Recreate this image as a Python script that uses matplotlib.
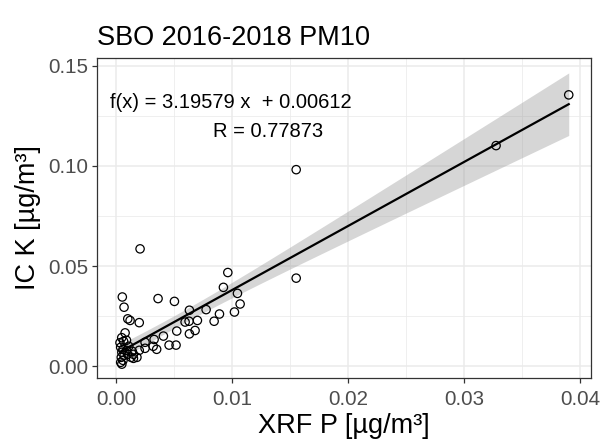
import numpy as np
import matplotlib
matplotlib.use("Agg")
import matplotlib.pyplot as plt

plt.rcParams['font.family'] = ['Liberation Sans', 'DejaVu Sans']

# XRF phosphorus vs. ion-chromatography potassium, PM10 samples
xrf_p = [
    0.0390, 0.03274, 0.01552, 0.01552, 0.00207, 0.00963, 0.00925, 0.01046,
    0.01069, 0.01020, 0.00891, 0.00845, 0.00776, 0.00632, 0.00629, 0.00595,
    0.00701, 0.00681, 0.00632, 0.00523, 0.00503, 0.00362, 0.00054, 0.00069,
    0.00101, 0.00121, 0.00200, 0.00457, 0.00517, 0.00408, 0.00328, 0.00320,
    0.00350, 0.00250, 0.00250, 0.00200, 0.00150, 0.00180, 0.00078, 0.00049,
    0.00034, 0.00065, 0.00040, 0.00060, 0.00090, 0.00050, 0.00070, 0.00045,
    0.00100, 0.00130, 0.00150, 0.00060, 0.00050, 0.00040, 0.00110, 0.00140,
    0.00090,
]
ic_k = [
    0.1354, 0.1101, 0.0981, 0.0440, 0.0586, 0.0468, 0.0394, 0.0364,
    0.0311, 0.0271, 0.0261, 0.0225, 0.0283, 0.0280, 0.0225, 0.0221,
    0.0229, 0.0179, 0.0162, 0.0176, 0.0324, 0.0338, 0.0346, 0.0295,
    0.0237, 0.0229, 0.0218, 0.0106, 0.0106, 0.0151, 0.0134, 0.0100,
    0.0085, 0.0120, 0.0090, 0.0080, 0.0060, 0.0045, 0.0167, 0.0143,
    0.0118, 0.0125, 0.0095, 0.0085, 0.0080, 0.0070, 0.0055, 0.0045,
    0.0060, 0.0045, 0.0040, 0.0030, 0.0011, 0.0020, 0.0100, 0.0075,
    0.0130,
]

slope = 3.19579
intercept = 0.00612
r_value = 0.77873

x_ticks = [0.00, 0.01, 0.02, 0.03, 0.04]
y_ticks = [0.00, 0.05, 0.10, 0.15]

x = np.asarray(xrf_p)
y = np.asarray(ic_k)

fig = plt.figure(figsize=(6.01, 4.46), dpi=100)
ax = fig.add_axes([0.1614, 0.1525, 0.822, 0.7175])

# fitted line with 95% confidence band
xs = np.linspace(x.min(), x.max(), 80)
ys = intercept + slope * xs
n = len(x)
resid = y - (intercept + slope * x)
s = np.sqrt(np.sum(resid ** 2) / (n - 2))
sxx = np.sum((x - x.mean()) ** 2)
se = s * np.sqrt(1.0 / n + (xs - x.mean()) ** 2 / sxx)
t_crit = 2.004
ax.fill_between(xs, ys - t_crit * se, ys + t_crit * se, color='#999999',
                alpha=0.4, linewidth=0, zorder=2)
ax.plot(xs, ys, color='black', linewidth=1.6, zorder=3)

ax.scatter(x, y, s=36, facecolors='none', edgecolors='black',
           linewidths=0.9, zorder=4)

ax.set_xlim(-0.00164, 0.04092)
ax.set_ylim(-0.0058, 0.1538)
ax.set_xticks(x_ticks)
ax.set_yticks(y_ticks)
ax.set_xticklabels([f"{v:.2f}" for v in x_ticks])
ax.set_yticklabels([f"{v:.2f}" for v in y_ticks])
ax.set_xticks([0.005, 0.015, 0.025, 0.035], minor=True)
ax.set_yticks([0.025, 0.075, 0.125], minor=True)

ax.grid(which='major', color='#EBEBEB', linewidth=1.1, zorder=0)
ax.grid(which='minor', color='#EBEBEB', linewidth=0.55, zorder=0)
ax.set_axisbelow(True)
ax.tick_params(which='major', length=3.5, width=0.9, color='#333333',
               labelsize=14.8, labelcolor='#4D4D4D', pad=3)
ax.tick_params(axis='x', which='major', pad=5)
ax.tick_params(which='minor', length=0)
for sp in ax.spines.values():
    sp.set_color('#333333')
    sp.set_linewidth(0.9)

ax.set_xlabel('XRF P [µg/m³]', fontsize=19.5, color='black', labelpad=3)
ax.set_ylabel('IC K [µg/m³]', fontsize=19.5, color='black', labelpad=5)
ax.set_title('SBO 2016-2018 PM10', fontsize=19.5, loc='left', pad=9)

ax.text(-0.0005, 0.1315, 'f(x) = 3.19579 x  + 0.00612', fontsize=14.5,
        ha='left', va='center')
ax.text(0.00833, 0.1170, f'R = {r_value:.5f}', fontsize=14.5,
        ha='left', va='center')

fig.savefig('out.png', dpi=100)
